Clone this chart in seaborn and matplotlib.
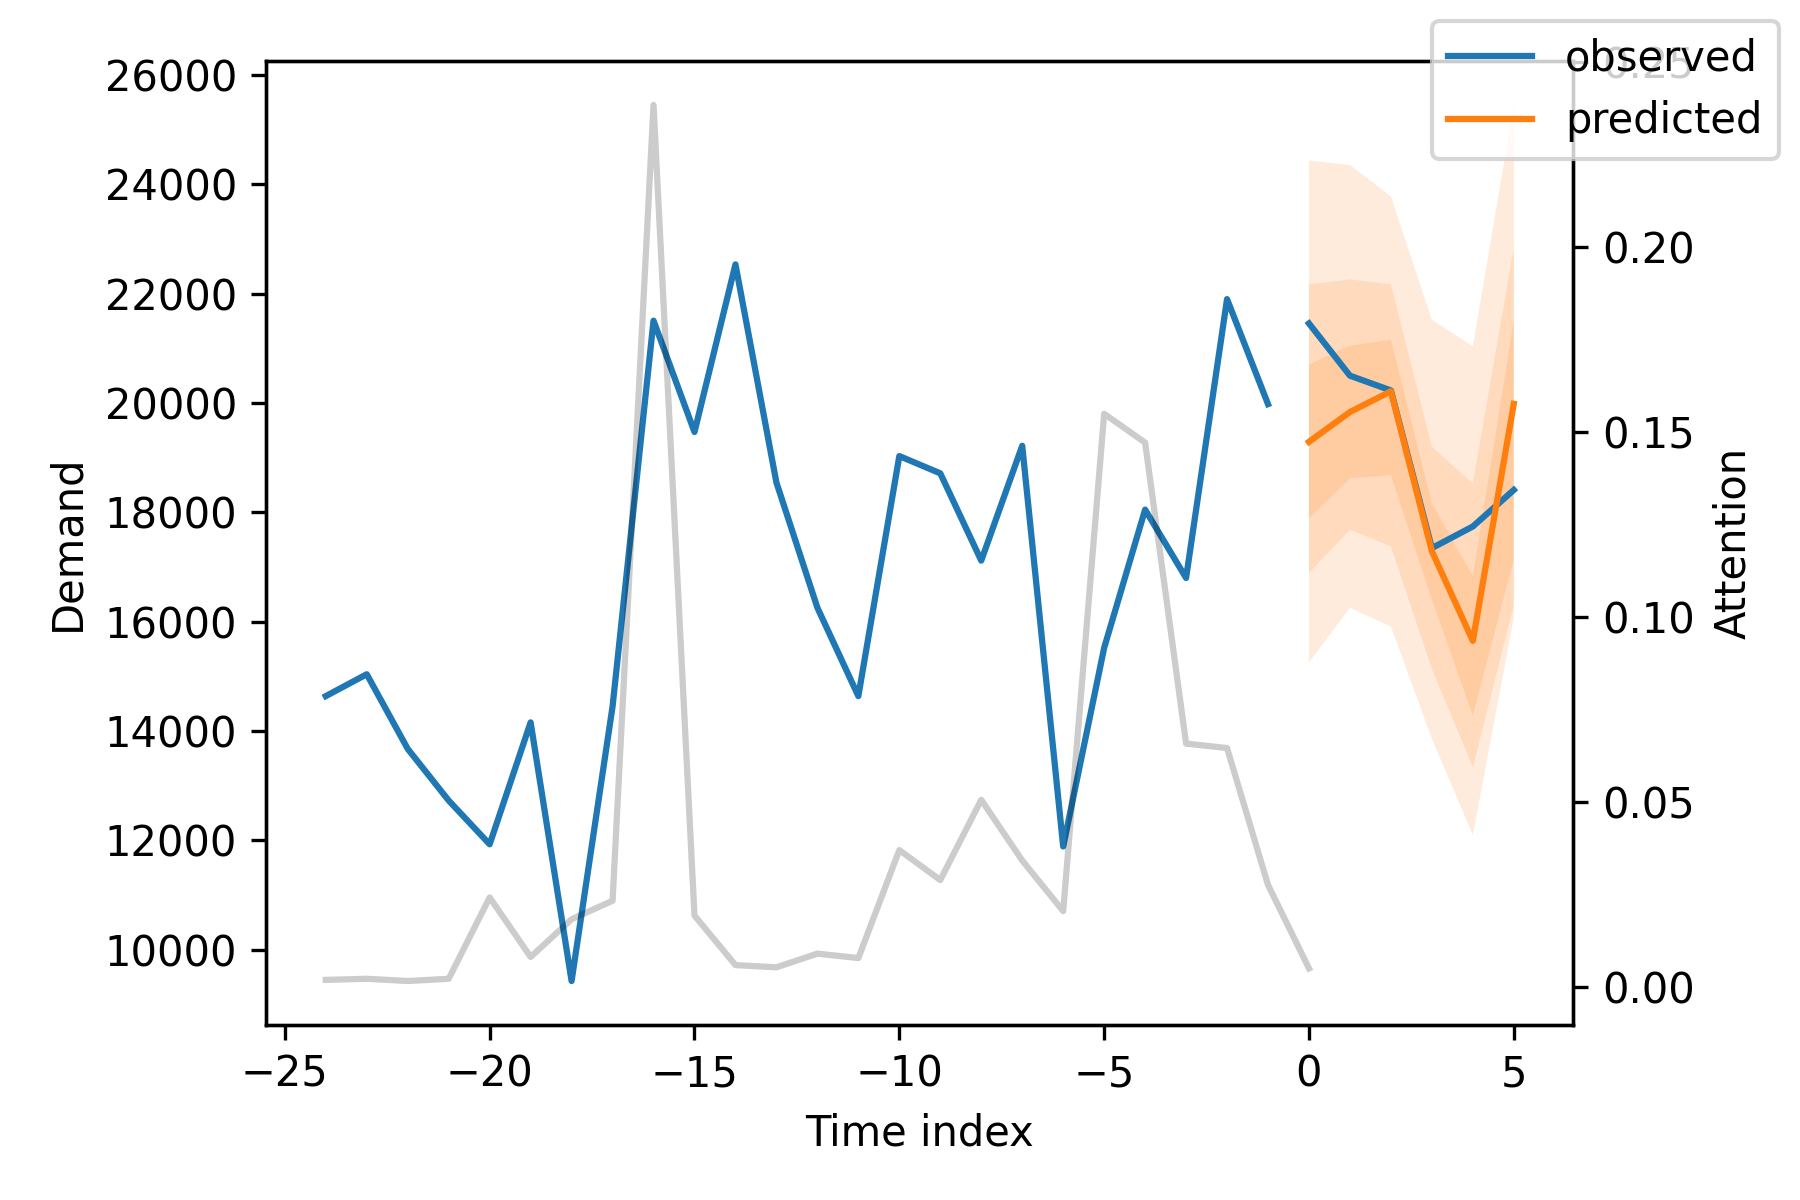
import matplotlib
matplotlib.use("Agg")
import matplotlib.pyplot as plt
import numpy as np
import seaborn as sns

# encoder (history) part
hist_time = np.arange(-24, 0)
observed_hist = [14640, 15040, 13675, 12730, 11930, 14160, 9430, 14450,
                 21506, 19470, 22535, 18546, 16257, 14640, 19030, 18714,
                 17118, 19218, 11890, 15522, 18050, 16800, 21900, 19980]

# decoder (forecast) part
pred_time = np.arange(0, 6)
observed_future = [21455, 20500, 20230, 17347, 17742, 18410]
predicted = [19290, 19835, 20215, 17290, 15650, 19985]

# quantiles 0.02 / 0.1 / 0.25 / 0.75 / 0.9 / 0.98
q02 = [15254, 16255, 15910, 13860, 12100, 16073]
q10 = [16892, 17682, 17378, 15140, 13343, 16300]
q25 = [17894, 18622, 18683, 16408, 14284, 17142]
q75 = [20703, 21049, 21158, 18166, 16832, 21510]
q90 = [22170, 22261, 22170, 19198, 18530, 22838]
q98 = [24434, 24354, 23779, 21522, 21037, 25450]

# attention weights
attn_time = np.arange(-24, 1)
attention = [0.0019, 0.0022, 0.0016, 0.0022, 0.0242, 0.0081, 0.0183, 0.0233,
             0.2385, 0.0193, 0.0059, 0.0053, 0.0090, 0.0078, 0.0370, 0.0289,
             0.0506, 0.0342, 0.0205, 0.1550, 0.1472, 0.0658, 0.0646, 0.0276,
             0.0050]

obs_color = sns.color_palette("tab10")[0]
pred_color = sns.color_palette("tab10")[1]

fig, ax = plt.subplots(figsize=(6, 4), dpi=300)
fig.subplots_adjust(left=0.148, right=0.874, top=0.949, bottom=0.146)

sns.lineplot(x=hist_time, y=observed_hist, ax=ax, color=obs_color,
             label="observed", legend=False)
sns.lineplot(x=pred_time, y=observed_future, ax=ax, color=obs_color,
             legend=False)
sns.lineplot(x=pred_time, y=predicted, ax=ax, color=pred_color,
             label="predicted", legend=False)

for lo, hi in [(q02, q98), (q10, q90), (q25, q75)]:
    ax.fill_between(pred_time, lo, hi, alpha=0.15, fc=pred_color)

ax.set_xlabel("Time index")
ax.set_ylabel("Demand")

ax2 = ax.twinx()
sns.lineplot(x=attn_time, y=attention, ax=ax2, color="k", alpha=0.2,
             legend=False)
ax2.set_ylabel("Attention")

fig.legend()
fig.savefig("out.png", dpi=300)
